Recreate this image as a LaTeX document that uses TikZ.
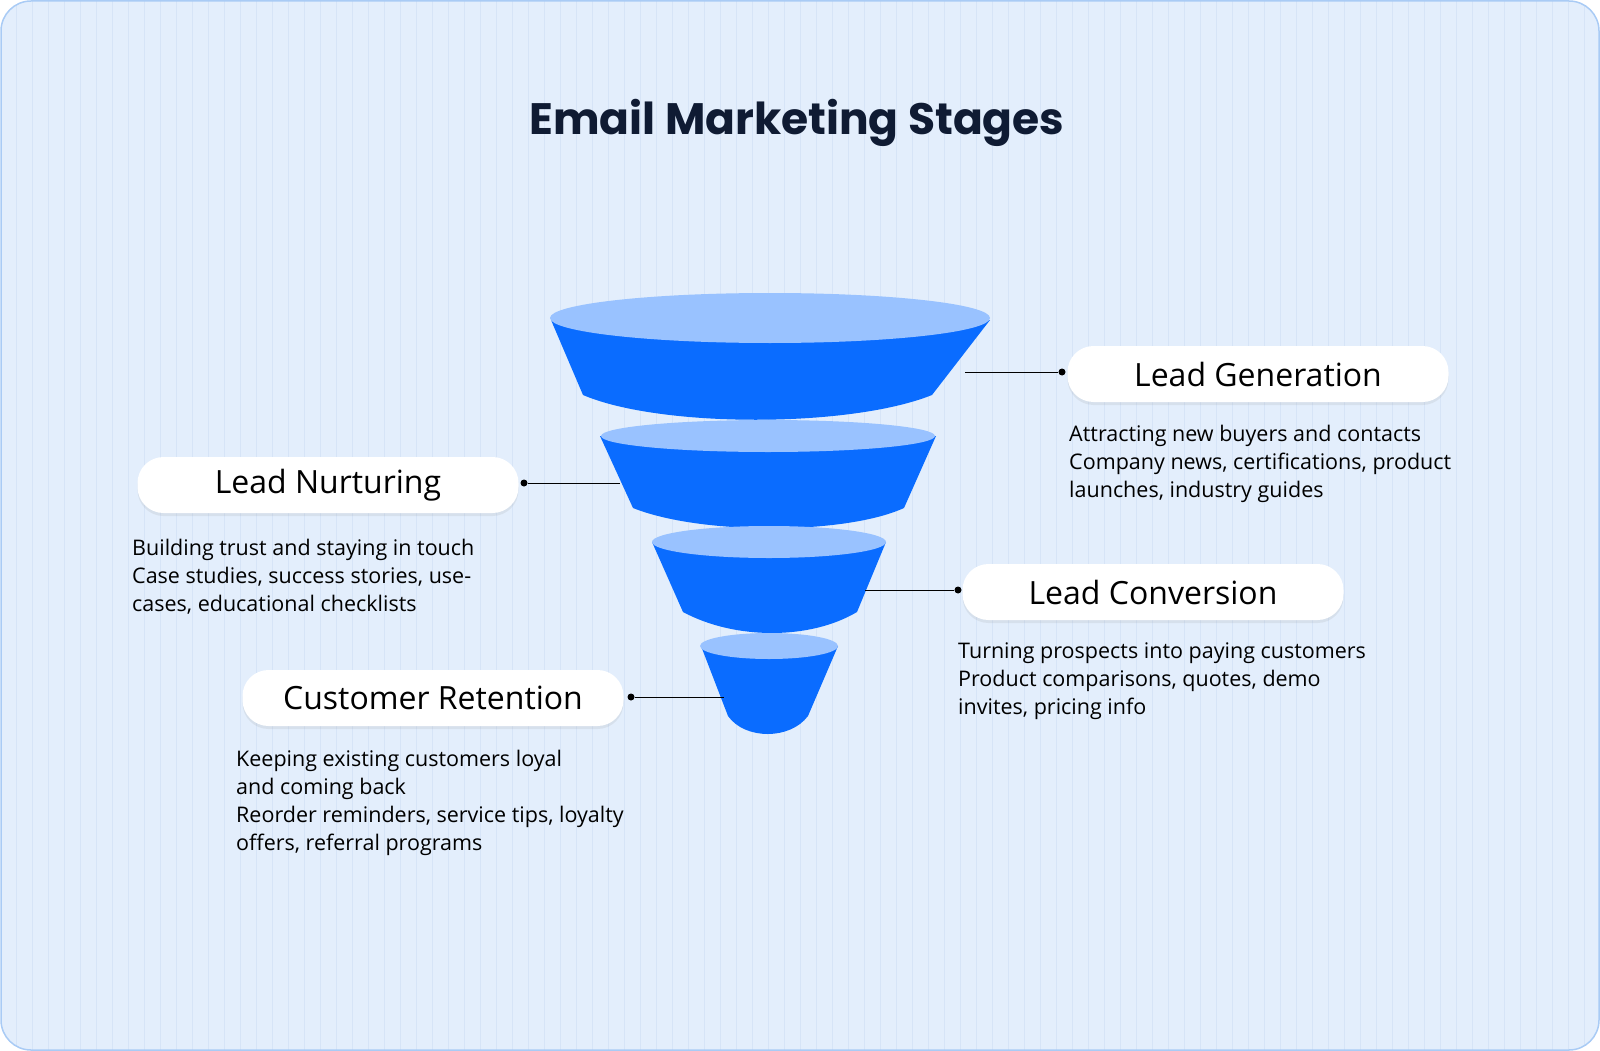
\documentclass[tikz,border=0pt]{standalone}
\usepackage{fontspec}
\setmainfont{Open Sans}
\newfontfamily\titlefont{Poppins}
\usetikzlibrary{shadows}
\definecolor{bgc}{HTML}{E3EEFC}
\definecolor{bordc}{HTML}{A9CBF5}
\definecolor{gridc}{HTML}{D6E4F7}
\definecolor{topc}{HTML}{99C2FF}
\definecolor{bodyc}{HTML}{0A6CFF}
\definecolor{navy}{HTML}{0F1B33}
\tikzset{
  pill/.style={fill=white,rounded corners=26pt,minimum width=381pt,minimum height=56pt,font=\fontsize{32}{36}\selectfont,text=black,drop shadow={opacity=0.12,shadow xshift=0pt,shadow yshift=-3pt}},
  desc/.style={anchor=north west,align=left,font=\fontsize{21.5}{28}\selectfont,text=black,inner sep=0pt},
  conn/.style={draw=black,line width=1pt},
  dotc/.style={circle,fill=black,inner sep=0pt,minimum size=7pt},
  seg/.style={fill=bodyc},
  segtop/.style={fill=topc}
}
\begin{document}
\begin{tikzpicture}[x=1pt,y=-1pt]
\useasboundingbox (0,0) rectangle (1600,1051);
\fill[bgc,rounded corners=30pt] (1,1) rectangle (1599,1050);
\begin{scope}
\clip[rounded corners=30pt] (1,1) rectangle (1599,1050);
\draw[gridc,line width=0.5pt] (0,0) grid[step=16] (1600,1051);
\end{scope}
\draw[bordc,line width=1.5pt,rounded corners=30pt] (1,1) rectangle (1599,1050);
\node[font=\titlefont\bfseries\fontsize{44}{50}\selectfont,text=navy] (title) at (797,123) {Email Marketing Stages};
% funnel
\fill[seg] (551,320) -- (583,395) .. controls (660,428) and (850,428) .. (932,395) -- (990,320) -- cycle;
\fill[segtop] (770,318) ellipse[x radius=220,y radius=25];
\fill[seg] (600,436) -- (633,508) .. controls (700,535) and (845,535) .. (904,508) -- (936,436) -- cycle;
\fill[segtop] (768,436) ellipse[x radius=167,y radius=16];
\fill[seg] (652,542) -- (683,612) .. controls (735,640) and (810,640) .. (857,612) -- (886,542) -- cycle;
\fill[segtop] (769,542) ellipse[x radius=117,y radius=16];
\fill[seg] (701,646) -- (728,716) .. controls (745,740) and (790,740) .. (808,716) -- (838,646) -- cycle;
\fill[segtop] (769,646) ellipse[x radius=69,y radius=13];
\coordinate (f1) at (965,372);
\coordinate (f2) at (620,483);
\coordinate (f3) at (865,590);
\coordinate (f4) at (724,697);
% labels
\node[pill] (lg) at (1258,374) {Lead Generation};
\node[pill] (ln) at (328,485) {Lead Nurturing};
\node[pill] (lc) at (1153,592) {Lead Conversion};
\node[pill] (cr) at (433,698) {Customer Retention};
\node[dotc] (d1) at (1062,372) {};
\node[dotc] (d2) at (524,483) {};
\node[dotc] (d3) at (958,590) {};
\node[dotc] (d4) at (631,697) {};
\draw[conn] (d1) -- (f1);
\draw[conn] (d2) -- (f2);
\draw[conn] (d3) -- (f3);
\draw[conn] (d4) -- (f4);
\node[desc] (t1) at (1069,425) {Attracting new buyers and contacts\\Company news, certifications, product\\launches, industry guides};
\node[desc] (t2) at (132,539) {Building trust and staying in touch\\Case studies, success stories, use-\\cases, educational checklists};
\node[desc] (t3) at (958,643) {Turning prospects into paying customers\\Product comparisons, quotes, demo\\invites, pricing info};
\node[desc] (t4) at (236,750) {Keeping existing customers loyal\\and coming back\\Reorder reminders, service tips, loyalty\\offers, referral programs};
\end{tikzpicture}
\end{document}
